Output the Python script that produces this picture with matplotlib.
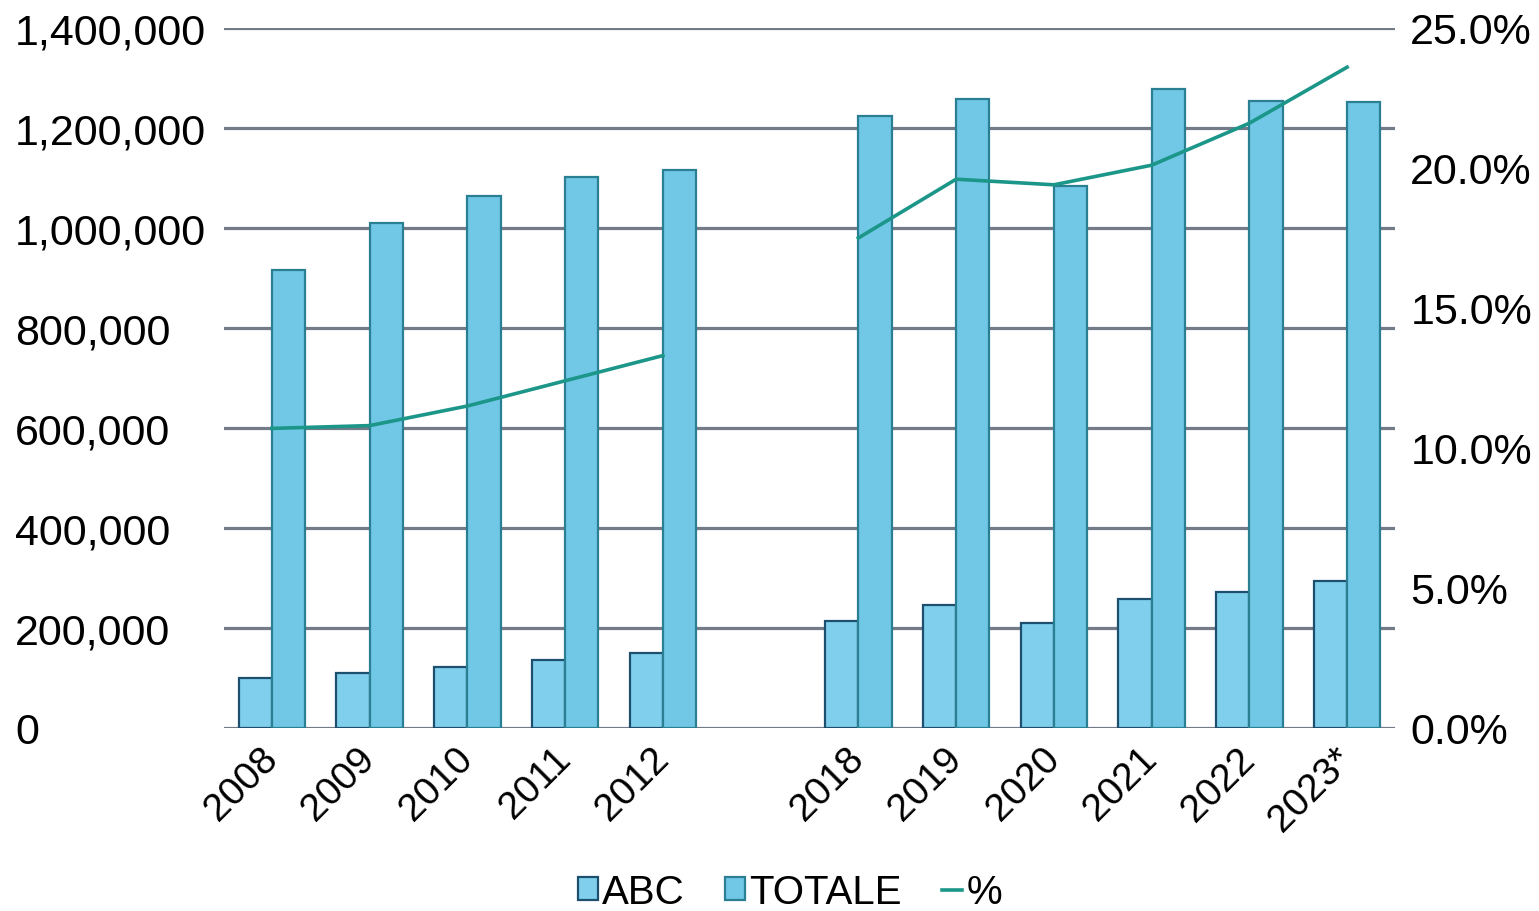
import numpy as np
import matplotlib
matplotlib.use("Agg")
import matplotlib.pyplot as plt
from matplotlib.patches import Patch
from matplotlib.lines import Line2D
from matplotlib.ticker import FuncFormatter, MultipleLocator

plt.rcParams['font.family'] = ['Liberation Sans', 'DejaVu Sans']

categories = ['2008', '2009', '2010', '2011', '2012', '',
              '2018', '2019', '2020', '2021', '2022', '2023*']
abc = [100000, 110000, 122000, 136000, 150000, np.nan,
       214000, 246000, 210000, 258000, 272000, 294000]
totale = [916000, 1010000, 1064000, 1102000, 1116000, np.nan,
          1224000, 1258000, 1084000, 1278000, 1254000, 1252000]
pct = [10.7, 10.8, 11.5, 12.4, 13.3, np.nan,
       17.5, 19.6, 19.4, 20.1, 21.6, 23.6]

fig = plt.figure(figsize=(15.39, 9.12), dpi=100)
ax = fig.add_axes([224/1539, (912-729)/912, (1395-224)/1539, 700/912])

x = np.arange(len(categories))
w = 0.34
ax.bar(x - w/2, abc, width=w, color='#80cfec', edgecolor='#1d4f6e',
       linewidth=1.6, zorder=3, label='ABC')
ax.bar(x + w/2, totale, width=w, color='#70c8e6', edgecolor='#2a7f92',
       linewidth=1.6, zorder=3, label='TOTALE')

ax.set_ylim(0, 1400000)
ax.set_xlim(-0.49, len(categories) - 0.51)
ax.yaxis.set_major_locator(MultipleLocator(200000))
ax.yaxis.set_major_formatter(FuncFormatter(lambda v, p: f"{int(v):,}"))
ax.grid(axis='y', color='#737a88', linewidth=2.3, zorder=0)
ax.set_axisbelow(True)
for s in ax.spines.values():
    s.set_visible(False)
ax.tick_params(axis='y', length=0, pad=(224-15)*0.72, labelsize=31)
for lab in ax.get_yticklabels():
    lab.set_horizontalalignment('left')
ax.set_xticks(x)
ax.set_xticklabels(categories, rotation=45, ha='right', va='center',
                   rotation_mode='anchor', fontsize=28)
ax.tick_params(axis='x', length=0, pad=18)

ax2 = ax.twinx()
ax2.plot(x, pct, color='#1b9688', linewidth=2.6, zorder=5, label='%')
ax2.set_ylim(0, 25)
ax2.yaxis.set_major_locator(MultipleLocator(5))
ax2.yaxis.set_major_formatter(FuncFormatter(lambda v, p: f"{v:.1f}%"))
ax2.tick_params(axis='y', length=0, pad=11, labelsize=31)
for s in ax2.spines.values():
    s.set_visible(False)

handles = [Patch(facecolor='#80cfec', edgecolor='#1d4f6e', linewidth=1.6),
           Patch(facecolor='#70c8e6', edgecolor='#2a7f92', linewidth=1.6),
           Line2D([0], [0], color='#1b9688', linewidth=2.6)]
fig.legend(handles, ['ABC', 'TOTALE', '%'], loc='center',
           bbox_to_anchor=(790/1539, (912-893)/912), ncol=3, frameon=False,
           fontsize=29, handlelength=0.5, handleheight=0.5,
           handletextpad=0.1, columnspacing=1.0)

fig.savefig('out.png', dpi=100)
